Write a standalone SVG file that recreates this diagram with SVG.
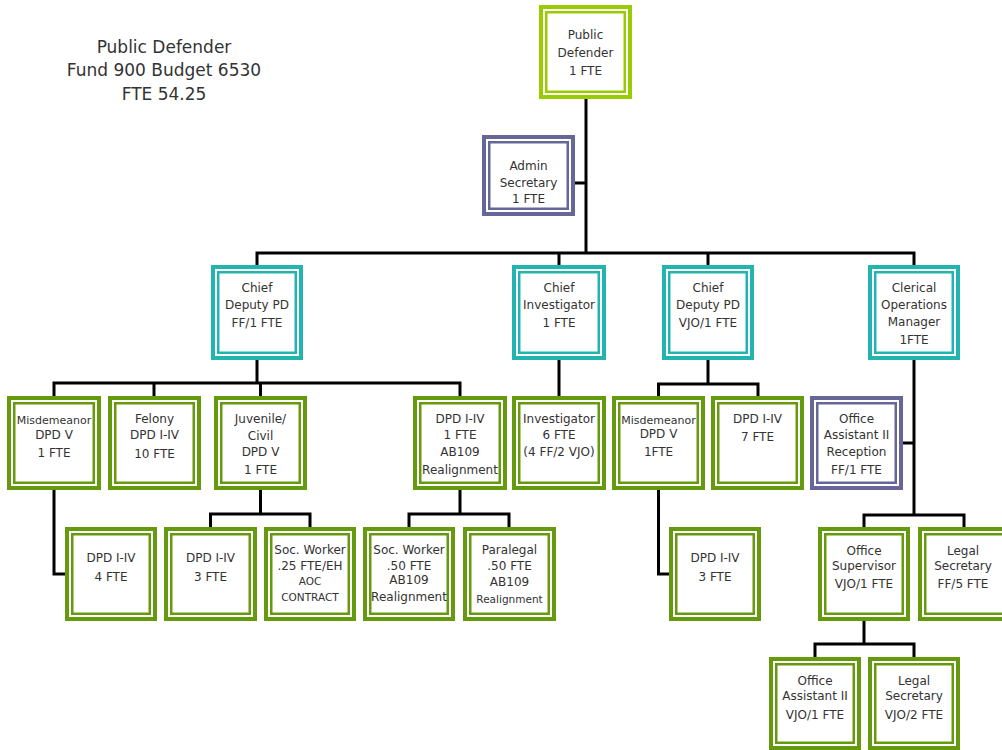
<svg xmlns="http://www.w3.org/2000/svg" width="1002" height="750" viewBox="0 0 1002 750">
<style>
text{font-family:"DejaVu Sans","Liberation Sans",sans-serif;font-size:12px;fill:#333;text-anchor:middle;dominant-baseline:central}
.title{font-size:17px}
.sm{font-size:11px}
.xs{font-size:10.5px}
rect.o{fill:#fff;stroke-width:4}
rect.i{fill:none;stroke-width:2.5}
.lime rect{stroke:#99cc00}
.green rect{stroke:#669a0e}
.teal rect{stroke:#22b5b0}
.purple rect{stroke:#666699}
#connectors path{fill:none;stroke:#000;stroke-width:3}
</style>
<rect width="1002" height="750" fill="#fff"/>
<g id="title">
<text class="title" x="164" y="47">Public Defender</text>
<text class="title" x="164" y="70">Fund 900 Budget 6530</text>
<text class="title" x="164" y="94">FTE 54.25</text>
</g>
<g id="connectors">
<path d="M586 99V253"/>
<path d="M575 183H586"/>
<path d="M257 265V253H914V265"/>
<path d="M559 253V265"/>
<path d="M708 253V265"/>
<path d="M257 360V383"/>
<path d="M54 396V383H460V396"/>
<path d="M154 383V396"/>
<path d="M260.5 383V396"/>
<path d="M559 360V396"/>
<path d="M708 360V384"/>
<path d="M658.5 396V384H758V396"/>
<path d="M914 360V515"/>
<path d="M864 527V515H964V527"/>
<path d="M903 443H914"/>
<path d="M54 490V574H65"/>
<path d="M260.5 490V514"/>
<path d="M210.5 527V514H310V527"/>
<path d="M460 490V514"/>
<path d="M409 527V514H509V527"/>
<path d="M658.5 490V574H669"/>
<path d="M864 621V644"/>
<path d="M815 657V644H914V657"/>
</g>
<g id="public-defender" class="lime">
<rect class="o" x="541" y="7" width="89" height="90"/><rect class="i" x="546.25" y="12.25" width="78.5" height="79.5"/>
<text x="585.5" y="35">Public</text><text x="585.5" y="53">Defender</text><text x="585.5" y="71">1 FTE</text>
</g>
<g id="admin-secretary" class="purple">
<rect class="o" x="484" y="137" width="89" height="77"/><rect class="i" x="489.25" y="142.25" width="78.5" height="66.5"/>
<text x="528.5" y="166">Admin</text><text x="528.5" y="183">Secretary</text><text x="528.5" y="199">1 FTE</text>
</g>
<g id="chief-deputy-ff" class="teal">
<rect class="o" x="213" y="267" width="88" height="91"/><rect class="i" x="218.25" y="272.25" width="77.5" height="80.5"/>
<text x="257" y="288">Chief</text><text x="257" y="305">Deputy PD</text><text x="257" y="323">FF/1 FTE</text>
</g>
<g id="chief-investigator" class="teal">
<rect class="o" x="514" y="267" width="90" height="91"/><rect class="i" x="519.25" y="272.25" width="79.5" height="80.5"/>
<text x="559" y="288">Chief</text><text x="559" y="305">Investigator</text><text x="559" y="323">1 FTE</text>
</g>
<g id="chief-deputy-vjo" class="teal">
<rect class="o" x="664" y="267" width="88" height="91"/><rect class="i" x="669.25" y="272.25" width="77.5" height="80.5"/>
<text x="708" y="288">Chief</text><text x="708" y="305">Deputy PD</text><text x="708" y="323">VJO/1 FTE</text>
</g>
<g id="clerical-ops" class="teal">
<rect class="o" x="870" y="267" width="88" height="91"/><rect class="i" x="875.25" y="272.25" width="77.5" height="80.5"/>
<text x="914" y="288">Clerical</text><text x="914" y="305">Operations</text><text x="914" y="322">Manager</text><text x="914" y="340">1FTE</text>
</g>
<g id="misdemeanor-ff" class="green">
<rect class="o" x="9" y="398" width="90" height="90"/><rect class="i" x="14.25" y="403.25" width="79.5" height="79.5"/>
<text class="sm" x="54" y="420">Misdemeanor</text><text x="54" y="435">DPD V</text><text x="54" y="453">1 FTE</text>
</g>
<g id="felony" class="green">
<rect class="o" x="110" y="398" width="89" height="90"/><rect class="i" x="115.25" y="403.25" width="78.5" height="79.5"/>
<text x="154.5" y="419">Felony</text><text x="154.5" y="435">DPD I-IV</text><text x="154.5" y="454">10 FTE</text>
</g>
<g id="juvenile-civil" class="green">
<rect class="o" x="216" y="398" width="89" height="90"/><rect class="i" x="221.25" y="403.25" width="78.5" height="79.5"/>
<text x="260.5" y="419">Juvenile/</text><text x="260.5" y="436">Civil</text><text x="260.5" y="452">DPD V</text><text x="260.5" y="470">1 FTE</text>
</g>
<g id="dpd-ab109" class="green">
<rect class="o" x="415" y="398" width="90" height="90"/><rect class="i" x="420.25" y="403.25" width="79.5" height="79.5"/>
<text x="460" y="419">DPD I-IV</text><text x="460" y="435">1 FTE</text><text x="460" y="452">AB109</text><text x="460" y="470">Realignment</text>
</g>
<g id="investigator" class="green">
<rect class="o" x="514" y="398" width="90" height="90"/><rect class="i" x="519.25" y="403.25" width="79.5" height="79.5"/>
<text x="559" y="419">Investigator</text><text x="559" y="435">6 FTE</text><text x="559" y="452">(4 FF/2 VJO)</text>
</g>
<g id="misdemeanor-vjo" class="green">
<rect class="o" x="614" y="398" width="89" height="90"/><rect class="i" x="619.25" y="403.25" width="78.5" height="79.5"/>
<text class="sm" x="658.5" y="420">Misdemeanor</text><text x="658.5" y="434">DPD V</text><text x="658.5" y="452">1FTE</text>
</g>
<g id="dpd-7" class="green">
<rect class="o" x="713" y="398" width="89" height="90"/><rect class="i" x="718.25" y="403.25" width="78.5" height="79.5"/>
<text x="757.5" y="419">DPD I-IV</text><text x="757.5" y="437">7 FTE</text>
</g>
<g id="office-assistant-reception" class="purple">
<rect class="o" x="812" y="398" width="89" height="90"/><rect class="i" x="817.25" y="403.25" width="78.5" height="79.5"/>
<text x="856.5" y="419">Office</text><text x="856.5" y="435">Assistant II</text><text x="856.5" y="452">Reception</text><text x="856.5" y="470">FF/1 FTE</text>
</g>
<g id="dpd-4" class="green">
<rect class="o" x="67" y="529" width="88" height="90"/><rect class="i" x="72.25" y="534.25" width="77.5" height="79.5"/>
<text x="111" y="558">DPD I-IV</text><text x="111" y="577">4 FTE</text>
</g>
<g id="dpd-3-ff" class="green">
<rect class="o" x="166" y="529" width="89" height="90"/><rect class="i" x="171.25" y="534.25" width="78.5" height="79.5"/>
<text x="210.5" y="558">DPD I-IV</text><text x="210.5" y="577">3 FTE</text>
</g>
<g id="soc-worker-25" class="green">
<rect class="o" x="266" y="529" width="88" height="90"/><rect class="i" x="271.25" y="534.25" width="77.5" height="79.5"/>
<text x="310" y="550">Soc. Worker</text><text x="310" y="566">.25 FTE/EH</text><text class="xs" x="310" y="581">AOC</text><text class="xs" x="310" y="597">CONTRACT</text>
</g>
<g id="soc-worker-50" class="green">
<rect class="o" x="365" y="529" width="88" height="90"/><rect class="i" x="370.25" y="534.25" width="77.5" height="79.5"/>
<text x="409" y="550">Soc. Worker</text><text x="409" y="566">.50 FTE</text><text x="409" y="580">AB109</text><text x="409" y="597">Realignment</text>
</g>
<g id="paralegal" class="green">
<rect class="o" x="465" y="529" width="89" height="90"/><rect class="i" x="470.25" y="534.25" width="78.5" height="79.5"/>
<text x="509.5" y="550">Paralegal</text><text x="509.5" y="566">.50 FTE</text><text x="509.5" y="582">AB109</text><text class="xs" x="509.5" y="599">Realignment</text>
</g>
<g id="dpd-3-vjo" class="green">
<rect class="o" x="671" y="529" width="88" height="90"/><rect class="i" x="676.25" y="534.25" width="77.5" height="79.5"/>
<text x="715" y="558">DPD I-IV</text><text x="715" y="577">3 FTE</text>
</g>
<g id="office-supervisor" class="green">
<rect class="o" x="820" y="529" width="88" height="90"/><rect class="i" x="825.25" y="534.25" width="77.5" height="79.5"/>
<text x="864" y="551">Office</text><text x="864" y="566">Supervisor</text><text x="864" y="584">VJO/1 FTE</text>
</g>
<g id="legal-secretary-ff" class="green">
<rect class="o" x="920" y="529" width="89" height="90"/><rect class="i" x="925.25" y="534.25" width="78.5" height="79.5"/>
<text x="963" y="551">Legal</text><text x="963" y="566">Secretary</text><text x="963" y="584">FF/5 FTE</text>
</g>
<g id="office-assistant-vjo" class="green">
<rect class="o" x="771" y="659" width="88" height="89"/><rect class="i" x="776.25" y="664.25" width="77.5" height="78.5"/>
<text x="815" y="681">Office</text><text x="815" y="696">Assistant II</text><text x="815" y="715">VJO/1 FTE</text>
</g>
<g id="legal-secretary-vjo" class="green">
<rect class="o" x="870" y="659" width="88" height="89"/><rect class="i" x="875.25" y="664.25" width="77.5" height="78.5"/>
<text x="914" y="681">Legal</text><text x="914" y="696">Secretary</text><text x="914" y="715">VJO/2 FTE</text>
</g>
</svg>
